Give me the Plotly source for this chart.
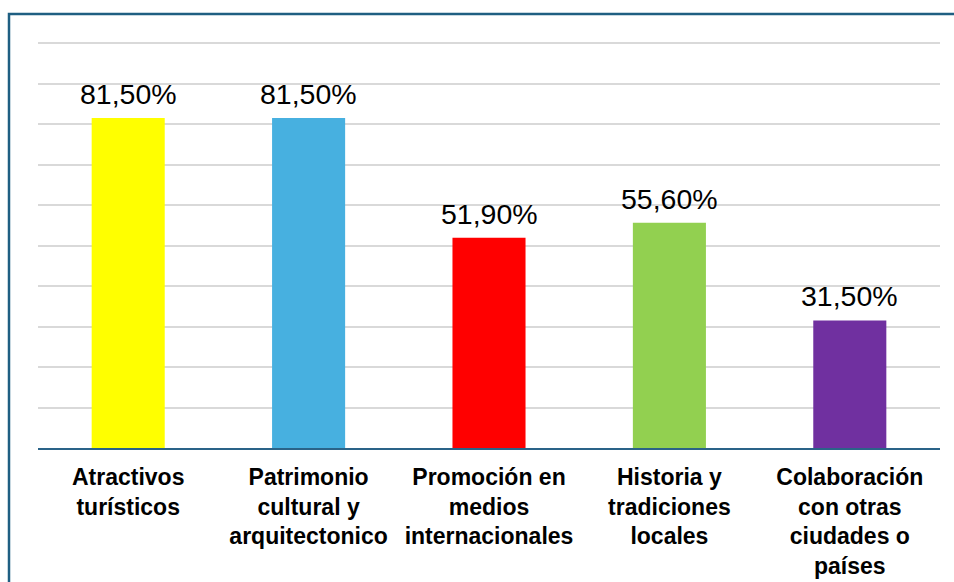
import plotly.graph_objects as go

categories = ["Atractivos<br>turísticos", "Patrimonio<br>cultural y<br>arquitectonico",
              "Promoción en<br>medios<br>internacionales", "Historia y<br>tradiciones<br>locales",
              "Colaboración<br>con otras<br>ciudades o<br>países"]
values = [81.5, 81.5, 51.9, 55.6, 31.5]
labels = ["81,50%", "81,50%", "51,90%", "55,60%", "31,50%"]
colors = ["#FFFF00", "#47B0E0", "#FF0000", "#92D050", "#7030A0"]
grid_vals = [10, 20, 30, 40, 50, 60, 70, 80, 90, 100]

fig = go.Figure(go.Bar(x=categories, y=values, marker=dict(color=colors, line=dict(width=0)),
                       hoverinfo="skip"))

for c, v, t in zip(categories, values, labels):
    fig.add_annotation(x=c, y=v, text=t, showarrow=False, yanchor="bottom", yshift=6,
                       font=dict(family="Liberation Sans, Arial", size=28.5, color="#000000"))

W, H = 954, 582
l, r, t, b = 38, 14, 39, 134
pw, ph = W - l - r, H - t - b
fig.add_shape(type="rect", xref="paper", yref="paper",
              x0=(9 - l) / pw, x1=(W + 20 - l) / pw,
              y0=-(H + 20 - (H - b)) / ph, y1=((H - b) - 14) / ph,
              line=dict(color="#1F5F82", width=2.5), fillcolor="rgba(0,0,0,0)", layer="above")

fig.update_layout(
    width=W, height=H, margin=dict(l=l, r=r, t=t, b=b, autoexpand=False),
    paper_bgcolor="white", plot_bgcolor="white", showlegend=False,
    bargap=0.595,
    font=dict(family="Liberation Sans, Arial", color="#000000"),
    xaxis=dict(showgrid=False, showline=True, linecolor="#2A6388", linewidth=2,
               ticks="", ticklabelstandoff=7, automargin=False,
               tickfont=dict(size=23, family="Liberation Sans, Arial", weight="bold"),
               tickangle=0, fixedrange=True),
    yaxis=dict(range=[0, 101], tickvals=grid_vals, automargin=False,
               showgrid=True, gridcolor="#D9D9D9", gridwidth=2,
               showticklabels=False, zeroline=False, showline=False, fixedrange=True),
)

fig.write_html("out.html", config={"displayModeBar": False},
               post_script="document.body.style.margin='0px';document.body.style.overflow='hidden';")
